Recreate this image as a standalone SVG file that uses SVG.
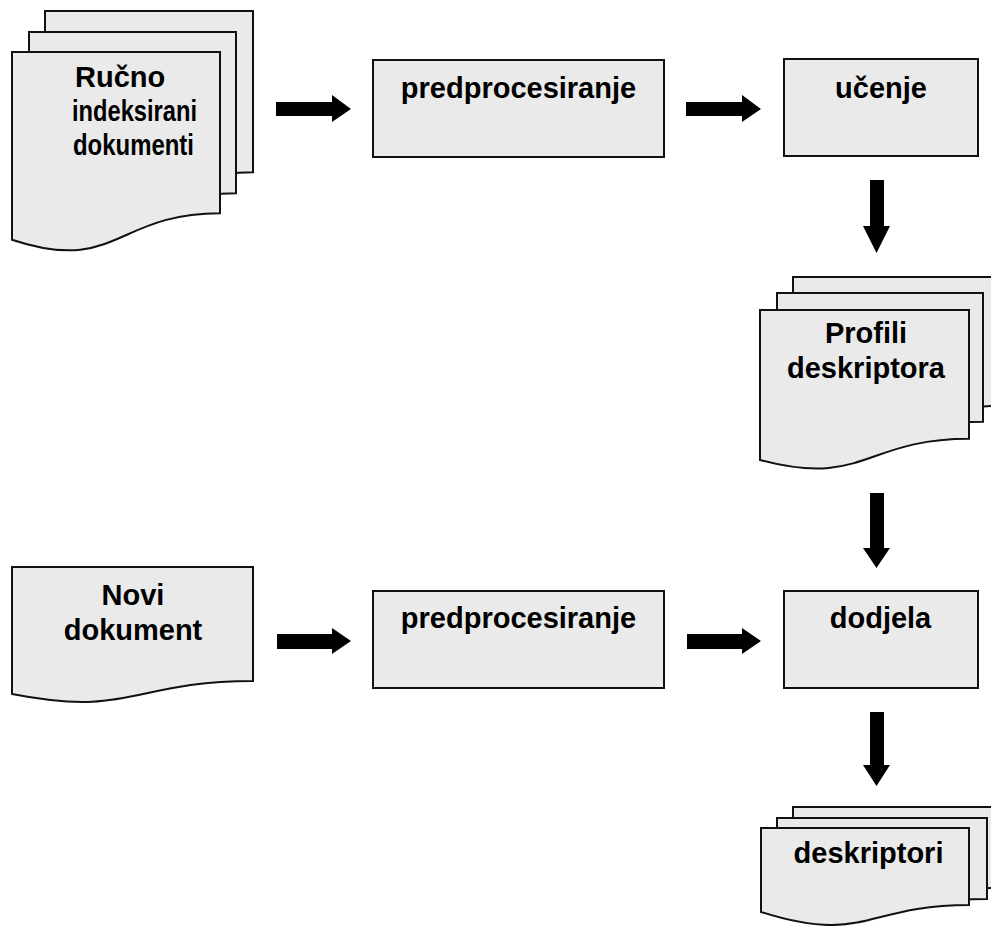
<svg xmlns="http://www.w3.org/2000/svg" width="991" height="926" viewBox="0 0 991 926">
  <style>
    .shape { fill: #eaeaea; stroke: #111; stroke-width: 2; stroke-linejoin: miter; }
    .label { font-family: "Liberation Sans", Arial, sans-serif; font-weight: bold; font-size: 29px; fill: #000; text-anchor: middle; }
    .left { text-anchor: start; }
    .arrow { fill: #000; stroke: none; }
  </style>
  <rect width="991" height="926" fill="#fff"/>

  <!-- Training documents (stack) -->
  <g id="rucno-indeksirani-dokumenti">
    <path class="shape" d="M45,11 H253 V172.2 C149,172.2 149,233.5 45,198.7 Z"/>
    <path class="shape" d="M29,32 H236 V193.2 C132.5,193.2 132.5,254.5 29,219.7 Z"/>
    <path class="shape" d="M12,52 H220 V213.2 C116,213.2 116,274.5 12,239.7 Z"/>
    <text class="label left" x="75" y="87">Ručno</text>
    <text class="label left" x="72" y="121" textLength="125" lengthAdjust="spacingAndGlyphs">indeksirani</text>
    <text class="label left" x="73" y="155" textLength="121" lengthAdjust="spacingAndGlyphs">dokumenti</text>
  </g>

  <g id="predprocesiranje-1">
    <rect class="shape" x="373" y="60" width="291" height="97"/>
    <text class="label" x="518.5" y="98">predprocesiranje</text>
  </g>

  <g id="ucenje">
    <rect class="shape" x="784" y="59" width="194" height="97"/>
    <text class="label" x="881" y="98">učenje</text>
  </g>

  <!-- Descriptor profiles (stack) -->
  <g id="profili-deskriptora">
    <path class="shape" d="M793,277 H1002 V405.8 C897.5,405.8 897.5,454.8 793,427 Z"/>
    <path class="shape" d="M777,293 H983 V421.8 C880,421.8 880,470.8 777,443 Z"/>
    <path class="shape" d="M760,310 H969 V438.8 C864.5,438.8 864.5,487.8 760,460 Z"/>
    <text class="label" x="866" y="343">Profili</text>
    <text class="label" x="866" y="378">deskriptora</text>
  </g>

  <g id="novi-dokument">
    <path class="shape" d="M12,567 H253 V681 C132.5,681 132.5,717.6 12,694 Z"/>
    <text class="label" x="133" y="605">Novi</text>
    <text class="label" x="133" y="640">dokument</text>
  </g>

  <g id="predprocesiranje-2">
    <rect class="shape" x="373" y="591" width="291" height="97"/>
    <text class="label" x="518.5" y="628">predprocesiranje</text>
  </g>

  <g id="dodjela">
    <rect class="shape" x="784" y="591" width="194" height="97"/>
    <text class="label" x="880.5" y="628">dodjela</text>
  </g>

  <!-- Resulting descriptors (stack) -->
  <g id="deskriptori">
    <path class="shape" d="M793,807 H1002 V888 C897.5,888 897.5,918.8 793,901.3 Z"/>
    <path class="shape" d="M777,818 H987 V899 C882,899 882,929.8 777,912.3 Z"/>
    <path class="shape" d="M761,828 H969 V905 C865,905 865,945 761,912 Z"/>
    <text class="label" x="868.5" y="863">deskriptori</text>
  </g>

  <!-- Block arrows -->
  <g id="connectors">
    <path class="arrow" d="M276,102 H332 V95 L351,109 L332,122 V116 H276 Z"/>
    <path class="arrow" d="M686,102 H742 V95 L761,109 L742,122 V116 H686 Z"/>
    <path class="arrow" d="M870,180 V226 H863 L876.5,253 L890,226 H884 V180 Z"/>
    <path class="arrow" d="M870,493 V548 H863 L876.5,568 L890,548 H884 V493 Z"/>
    <path class="arrow" d="M277,634 H332 V628 L351,641 L332,654 V649 H277 Z"/>
    <path class="arrow" d="M687,634 H742 V628 L761,641 L742,654 V649 H687 Z"/>
    <path class="arrow" d="M870,712 V765 H863 L876.5,786 L890,765 H884 V712 Z"/>
  </g>
</svg>
